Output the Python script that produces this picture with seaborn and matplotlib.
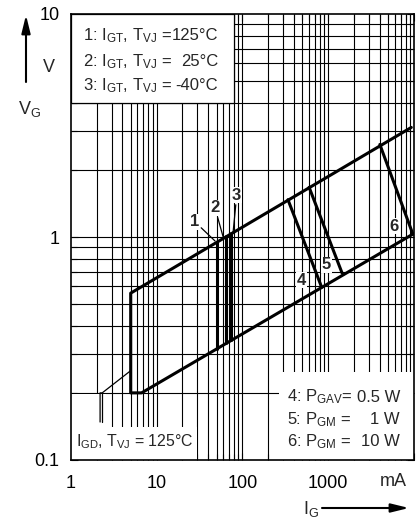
import matplotlib

matplotlib.use("Agg")
import matplotlib.pyplot as plt
import numpy as np
import pandas as pd
import seaborn as sns
from matplotlib.patches import Rectangle
from matplotlib.ticker import LogLocator, NullFormatter

# gate trigger area outline (I_G in mA, V_G in V)
outline_i = [9300, 5, 5, 6.7, 9700]
outline_v = [3.1, 0.56, 0.2, 0.2, 1.03]

# I_GT lines 1..3 (125 / 25 / -40 degC)
igt_labels = ["1", "2", "3"]
igt_i = [50, 64, 74]
igt_v_top = [0.95, 1.01, 1.04]
igt_v_bottom = [0.315, 0.333, 0.344]
igt_label_i = [28, 48, 86]
igt_label_v = [1.17, 1.35, 1.54]
igt_leader_i = [48, 60, 78]
igt_leader_v = [0.96, 0.995, 1.05]

# gate power limit lines 4..6
pg_labels = ["4", "5", "6"]
pg_i_start = [340, 600, 4000]
pg_v_start = [1.47, 1.67, 2.6]
pg_i_end = [840, 1450, 9700]
pg_v_end = [0.595, 0.69, 1.03]
pg_label_i = [490, 960, 5860]
pg_label_v = [0.64, 0.75, 1.12]

# legend texts
legend_top = [("1: $I_{GT}$, $T_{VJ}$ =", "125°C"),
              ("2: $I_{GT}$, $T_{VJ}$ =", "25°C"),
              ("3: $I_{GT}$, $T_{VJ}$ =", "-40°C")]
legend_bottom = [("4: $P_{GAV}$=", "0.5 W"),
                 ("5: $P_{GM}$ =", "1 W"),
                 ("6: $P_{GM}$ =", "10 W")]

sns.set_theme(style="ticks")
plt.rcParams["font.family"] = ["Liberation Sans", "DejaVu Sans"]
plt.rcParams["mathtext.fontset"] = "custom"
plt.rcParams["mathtext.rm"] = "Liberation Sans"
plt.rcParams["mathtext.it"] = "Liberation Sans"
plt.rcParams["mathtext.bf"] = "Liberation Sans:bold"
plt.rcParams["mathtext.default"] = "regular"

FS = 12
FS_TICK = 13
W, H = 418, 522


def px(x, y):
    return x / W, 1 - y / H


# one long table of all thick curves
rows = [("outline", i, v) for i, v in zip(outline_i, outline_v)]
for lab, i, vt, vb in zip(igt_labels, igt_i, igt_v_top, igt_v_bottom):
    rows += [(lab, i, vb), (lab, i, vt)]
for lab, i0, v0, i1, v1 in zip(pg_labels, pg_i_start, pg_v_start, pg_i_end, pg_v_end):
    rows += [(lab, i0, v0), (lab, i1, v1)]
curves = pd.DataFrame(rows, columns=["curve", "I", "V"])

fig = plt.figure(figsize=(W / 100, H / 100), dpi=100)
ax = fig.add_axes([70.7 / W, 1 - 460 / H, (414 - 70.7) / W, (460 - 14) / H])
ax.set_xscale("log")
ax.set_yscale("log")
ax.set_xlim(1, 1e4)
ax.set_ylim(0.1, 10)

# grid drawn by hand so the white boxes can hide it but not the ticks
gx = LogLocator(base=10, subs=np.arange(1, 10)).tick_values(1, 1e4)
gx = gx[(gx > 1) & (gx < 1e4)]
gy = LogLocator(base=10, subs=np.arange(1, 10)).tick_values(0.1, 10)
gy = gy[(gy > 0.1) & (gy < 10)]
ax.vlines(gx, 0.1, 10, color="black", lw=0.8, zorder=1)
ax.hlines(gy, 1, 1e4, color="black", lw=0.8, zorder=1)

# white boxes behind the texts
ax.add_patch(Rectangle((1, 4), 79, 6, fc="white", ec="black", lw=0.9, zorder=2))
ax.add_patch(Rectangle((270, 0.1), 9730, 0.148, fc="white", ec="none", zorder=2))
ax.add_patch(Rectangle((1, 0.1), 28.5, 0.041, fc="white", ec="none", zorder=2))
ax.add_patch(Rectangle((1, 0.1), 1.6, 0.097, fc="white", ec="none", zorder=2))

sns.lineplot(data=curves, x="I", y="V", units="curve", estimator=None, sort=False,
             color="black", lw=2.2, ax=ax, zorder=3, legend=False)

# numbered labels with leaders
for lab, x, y, lx, ly in zip(igt_labels, igt_label_i, igt_label_v, igt_leader_i, igt_leader_v):
    ax.annotate(lab, xy=(lx, ly), xytext=(x, y), ha="center", va="center",
                fontsize=12, fontweight="bold", zorder=4,
                bbox=dict(fc="white", ec="none", pad=0.5),
                arrowprops=dict(arrowstyle="-", lw=0.9, color="black",
                                shrinkA=1, shrinkB=0))
for lab, x, y in zip(pg_labels, pg_label_i, pg_label_v):
    ax.text(x, y, lab, ha="center", va="center", fontsize=12, fontweight="bold",
            zorder=4, bbox=dict(fc="white", ec="none", pad=0.5))

# I_GD leader
ax.plot([2.2, 2.2, 2.33, 4.9], [0.148, 0.2, 0.2, 0.25], color="black", lw=0.9, zorder=3)
ax.plot([2.33, 2.33], [0.148, 0.2], color="black", lw=0.9, zorder=3)

ax.set_xlabel("")
ax.set_ylabel("")
ax.set_xticks([1, 10, 100, 1000, 10000], ["1", "10", "100", "1000", ""])
ax.set_yticks([0.1, 1, 10], ["0.1", "1", "10"])
ax.xaxis.set_minor_formatter(NullFormatter())
ax.yaxis.set_minor_formatter(NullFormatter())
ax.tick_params(which="both", direction="in", top=True, right=True, color="black",
               width=0.8, labelsize=FS_TICK, labelcolor="black")
ax.tick_params(which="major", length=5)
ax.tick_params(which="minor", length=4)
ax.tick_params(axis="x", pad=11)
ax.tick_params(axis="y", pad=8)
for sp in ax.spines.values():
    sp.set_linewidth(1.2)
    sp.set_color("black")
    sp.set_zorder(5)

# legend text, top left
for (left, val), yb in zip(legend_top, [40.5, 66, 90.5]):
    fig.text(*px(82.7, yb), left, ha="left", va="baseline", fontsize=FS)
    fig.text(*px(218, yb), val, ha="right", va="baseline", fontsize=FS)

# legend text, bottom right
for (left, val), yb in zip(legend_bottom, [401.7, 424, 446]):
    fig.text(*px(287.3, yb), left, ha="left", va="baseline", fontsize=FS)
    fig.text(*px(400, yb), val, ha="right", va="baseline", fontsize=FS)

fig.text(*px(76, 446), "$I_{GD}$, $T_{VJ}$ = 125°C", ha="left", va="baseline", fontsize=11.4)

# axis captions and arrows
fig.text(*px(49, 67), "V", ha="center", va="center", fontsize=FS_TICK)
fig.text(*px(18, 114), "$V_G$", ha="left", va="baseline", fontsize=FS_TICK)
fig.text(*px(393, 482), "mA", ha="center", va="center", fontsize=FS_TICK)
fig.text(*px(303, 514), "$I_G$", ha="left", va="baseline", fontsize=FS_TICK)
arrow = dict(arrowstyle="-|>,head_length=0.9,head_width=0.22", color="black",
             lw=1.5, shrinkA=0, shrinkB=0)
ax.annotate("", xy=px(26, 15), xytext=px(26, 82), xycoords="figure fraction",
            textcoords="figure fraction", arrowprops=arrow, annotation_clip=False)
ax.annotate("", xy=px(409, 508), xytext=px(322, 508), xycoords="figure fraction",
            textcoords="figure fraction", arrowprops=arrow, annotation_clip=False)

fig.savefig("out.png", dpi=100)
